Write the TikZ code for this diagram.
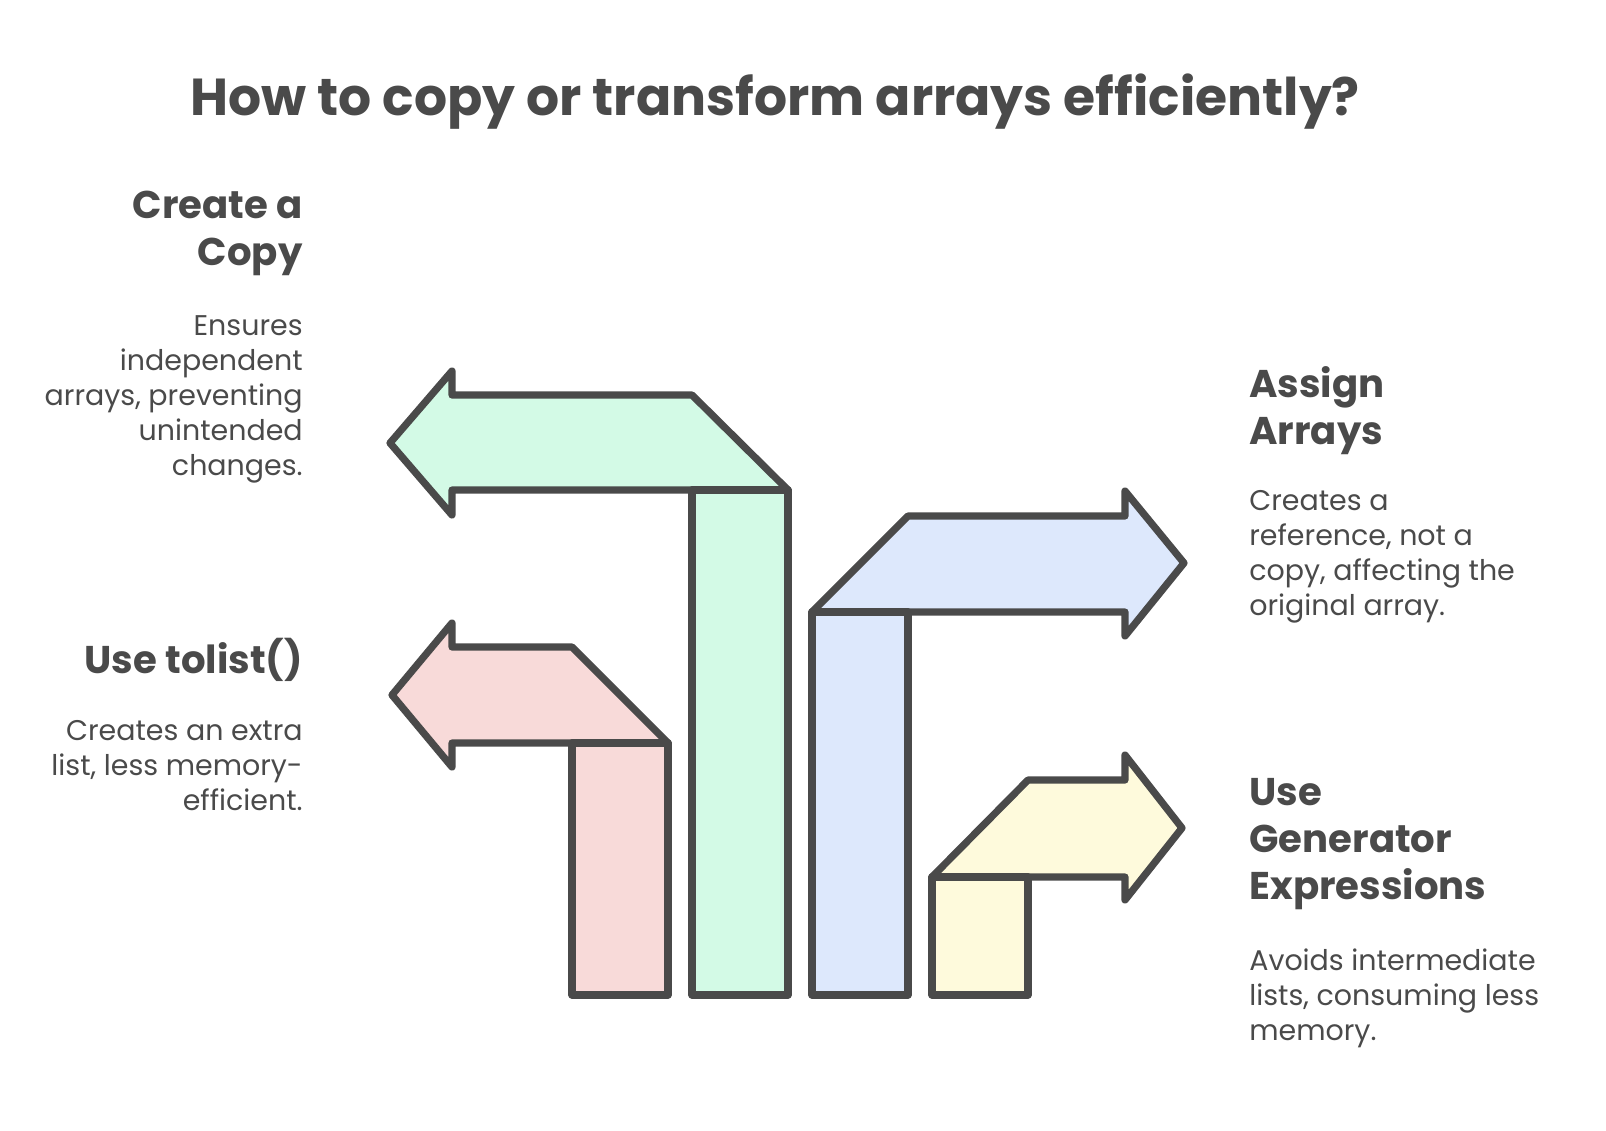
\documentclass[tikz,border=0pt]{standalone}
\usepackage{fontspec}
\setmainfont{Poppins}
\usetikzlibrary{positioning}
\definecolor{ink}{HTML}{4A4A4A}
\definecolor{mint}{HTML}{D3FAE6}
\definecolor{rose}{HTML}{F8DAD9}
\definecolor{sky}{HTML}{DDE8FC}
\definecolor{cream}{HTML}{FEFADC}
\tikzset{title/.style={font=\fontsize{29.6}{34}\selectfont\bfseries, text=ink, inner sep=0pt},
head/.style={font=\fontsize{22}{26.6}\selectfont\bfseries, text=ink, inner sep=0pt},
% descriptions under each heading
desc/.style={font=\fontsize{16.2}{19.9}\selectfont, text=ink, inner sep=0pt},
outline/.style={draw=ink, line width=4.1pt, line join=round, line cap=round}
}
\begin{document}
\begin{tikzpicture}[x=0.02cm, y=-0.02cm]
    \useasboundingbox (0,0) rectangle (1606,1130);
    % arrows, the stem is drawn apart from the arm
    \draw[outline, fill=mint] (692,490) -- (452,490) -- (452,515) -- (390,443) -- (452,371) -- (452,395) -- (692,395) -- (788,490) -- cycle;
    \draw[outline, fill=mint] (692,490) rectangle (788,995);
    \draw[outline, fill=rose] (572,743) -- (452,743) -- (452,767) -- (392,695) -- (452,623) -- (452,647) -- (572,647) -- (668,743) -- cycle;
    \draw[outline, fill=rose] (572,743) rectangle (668,995);
    \draw[outline, fill=sky] (908,612) -- (1125,612) -- (1125,636) -- (1184,563) -- (1125,491) -- (1125,516) -- (908,516) -- (812,612) -- cycle;
    \draw[outline, fill=sky] (812,612) rectangle (908,995);
    \draw[outline, fill=cream] (1028,877) -- (1125,877) -- (1125,900) -- (1182,828) -- (1125,755) -- (1125,780) -- (1028,780) -- (932,877) -- cycle;
    \draw[outline, fill=cream] (932,877) rectangle (1028,995);
    % texts, anchored on the baseline of their last line
    \node[title, anchor=base] (ttl) at (775,115) {How to copy or transform arrays efficiently?};
    \node[head, anchor=base east, align=right] (copyhd) at (303,265) {Create a\\Copy};
    \node[desc, anchor=base east, align=right] (copytx) at (303,475) {Ensures\\independent\\arrays, preventing\\unintended\\changes.};
    \node[head, anchor=base east] (listhd) at (303,673) {Use tolist()};
    \node[desc, anchor=base east, align=right] (listtx) at (303,810) {Creates an extra\\list, less memory-\\efficient.};
    \node[head, anchor=base west, align=left] (asghd) at (1249,444) {Assign\\Arrays};
    \node[desc, anchor=base west, align=left] (asgtx) at (1249,615) {Creates a\\reference, not a\\copy, affecting the\\original array.};
    \node[head, anchor=base west, align=left] (genhd) at (1249,899) {Use\\Generator\\Expressions};
    \node[desc, anchor=base west, align=left] (gentx) at (1249,1040) {Avoids intermediate\\lists, consuming less\\memory.};
\end{tikzpicture}
\end{document}
